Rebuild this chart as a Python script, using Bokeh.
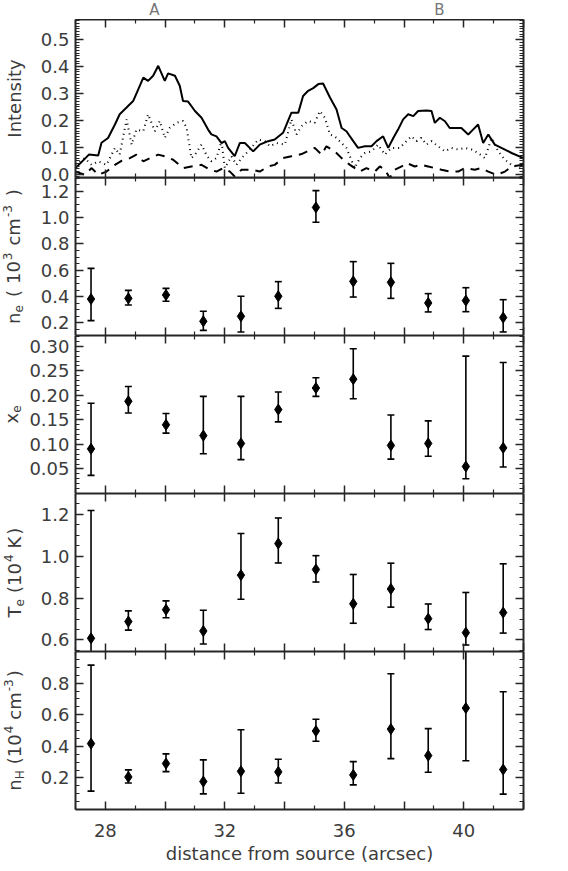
import math
from bokeh.plotting import figure
from bokeh.models import LinearAxis, FixedTicker, Range1d, ColumnDataSource
from bokeh.layouts import column, row
from bokeh.embed import file_html
from bokeh.resources import INLINE
from bokeh.core.properties import value

# ---------------- data ----------------
# Intensity profiles (top panel)
SOLID_X = [27.00, 27.45, 27.76, 27.87, 28.09, 28.32, 28.48, 28.71, 28.93, 29.08, 29.27, 29.43, 29.60, 29.77,
           29.99, 30.10, 30.33, 30.49, 30.60, 30.77, 31.00, 31.22, 31.44, 31.55, 31.72, 31.89, 32.00, 32.11,
           32.33, 32.50, 32.67, 32.95, 33.17, 33.45, 33.67, 33.95, 34.23, 34.46, 34.62, 34.79, 34.96, 35.13,
           35.29, 35.52, 35.74, 35.91, 36.07, 36.30, 36.46, 36.69, 36.91, 37.08, 37.30, 37.47, 37.64, 37.80,
           37.97, 38.14, 38.31, 38.47, 38.75, 38.92, 39.03, 39.20, 39.37, 39.53, 39.92, 40.15, 40.31, 40.48,
           40.65, 40.82, 41.04, 41.26, 41.60, 42.00]
SOLID_Y = [0.023, 0.073, 0.070, 0.117, 0.135, 0.185, 0.223, 0.248, 0.272, 0.310, 0.359, 0.347, 0.366, 0.403,
           0.347, 0.375, 0.366, 0.329, 0.272, 0.270, 0.235, 0.210, 0.166, 0.148, 0.141, 0.116, 0.123, 0.098,
           0.067, 0.116, 0.116, 0.085, 0.110, 0.123, 0.129, 0.154, 0.229, 0.229, 0.291, 0.310, 0.320, 0.335,
           0.337, 0.285, 0.241, 0.172, 0.160, 0.123, 0.098, 0.104, 0.104, 0.123, 0.141, 0.098, 0.135, 0.166,
           0.204, 0.223, 0.216, 0.235, 0.237, 0.235, 0.191, 0.210, 0.197, 0.172, 0.172, 0.148, 0.166, 0.185,
           0.116, 0.148, 0.110, 0.098, 0.079, 0.060]

DOT_X = [27.00, 27.31, 27.54, 27.76, 28.04, 28.32, 28.48, 28.71, 28.88, 29.04, 29.27, 29.43, 29.66, 29.82,
         29.99, 30.16, 30.38, 30.60, 30.72, 30.88, 31.00, 31.22, 31.39, 31.55, 31.72, 31.89, 32.00, 32.22,
         32.39, 32.56, 32.78, 33.12, 33.34, 33.51, 33.73, 34.01, 34.23, 34.40, 34.57, 34.79, 35.01, 35.18,
         35.35, 35.52, 35.68, 35.91, 36.07, 36.35, 36.52, 36.69, 36.91, 37.13, 37.36, 37.58, 37.86, 38.08,
         38.25, 38.42, 38.58, 38.75, 38.92, 39.14, 39.37, 39.59, 39.81, 40.04, 40.26, 40.48, 40.71, 40.93,
         41.15, 41.38, 41.60, 42.00]
DOT_Y = [0.035, 0.060, 0.035, 0.048, 0.035, 0.098, 0.073, 0.204, 0.110, 0.166, 0.160, 0.223, 0.160, 0.198,
         0.135, 0.173, 0.191, 0.198, 0.173, 0.060, 0.073, 0.110, 0.070, 0.048, 0.060, 0.123, 0.023, 0.067,
         0.035, 0.060, 0.085, 0.129, 0.123, 0.104, 0.116, 0.110, 0.204, 0.148, 0.179, 0.198, 0.191, 0.235,
         0.210, 0.148, 0.141, 0.116, 0.098, 0.023, 0.060, 0.079, 0.085, 0.110, 0.073, 0.098, 0.098, 0.123,
         0.141, 0.123, 0.135, 0.110, 0.123, 0.104, 0.085, 0.098, 0.092, 0.098, 0.092, 0.079, 0.060, 0.135,
         0.085, 0.054, 0.035, 0.017]

DASH_X = [27.00, 27.31, 27.54, 27.76, 28.04, 28.32, 28.54, 28.82, 29.04, 29.27, 29.49, 29.77, 29.99, 30.27,
          30.60, 30.88, 31.22, 31.50, 31.72, 31.94, 32.17, 32.33, 32.56, 32.89, 33.17, 33.45, 33.67, 33.95,
          34.23, 34.57, 35.01, 35.24, 35.40, 35.68, 35.91, 36.19, 36.52, 36.74, 37.02, 37.19, 37.36, 37.52,
          37.69, 37.92, 38.08, 38.36, 38.58, 38.81, 39.03, 39.25, 39.53, 39.81, 40.04, 40.37, 40.59, 40.82,
          41.10, 41.38, 41.60, 42.00]
DASH_Y = [0.010, -0.002, 0.023, -0.002, 0.010, 0.035, 0.050, 0.060, 0.073, 0.048, 0.060, 0.073, 0.067, 0.054,
          0.023, 0.029, 0.035, 0.017, 0.010, 0.023, 0.010, -0.008, 0.017, 0.017, 0.010, 0.029, 0.035, 0.060,
          0.067, 0.075, 0.098, 0.073, 0.104, 0.085, 0.060, 0.035, 0.010, 0.023, 0.010, 0.029, 0.017, -0.014,
          0.017, 0.029, 0.042, 0.029, 0.035, 0.029, 0.023, 0.017, 0.010, 0.010, 0.023, 0.017, 0.023, 0.010,
          -0.002, 0.010, 0.029, 0.035]

# Positions of the twelve sampled regions (arcsec)
X_POS = [27.52, 28.77, 30.03, 31.28, 32.54, 33.79, 35.05, 36.30, 37.56, 38.81, 40.07, 41.32]

NE = [0.382, 0.387, 0.413, 0.213, 0.251, 0.403, 1.078, 0.516, 0.509, 0.352, 0.370, 0.241]
NE_LO = [0.218, 0.337, 0.365, 0.144, 0.132, 0.311, 0.965, 0.397, 0.387, 0.284, 0.286, 0.132]
NE_HI = [0.615, 0.448, 0.463, 0.289, 0.403, 0.514, 1.205, 0.666, 0.653, 0.423, 0.468, 0.377]

XE = [0.091, 0.188, 0.140, 0.118, 0.102, 0.171, 0.215, 0.233, 0.098, 0.102, 0.055, 0.093]
XE_LO = [0.037, 0.164, 0.123, 0.081, 0.069, 0.146, 0.198, 0.193, 0.070, 0.076, 0.030, 0.054]
XE_HI = [0.184, 0.218, 0.163, 0.198, 0.198, 0.207, 0.236, 0.295, 0.160, 0.148, 0.280, 0.267]

TE = [0.608, 0.688, 0.745, 0.643, 0.910, 1.061, 0.937, 0.773, 0.844, 0.702, 0.635, 0.731]
TE_LO = [0.450, 0.647, 0.706, 0.581, 0.795, 0.968, 0.877, 0.680, 0.757, 0.650, 0.576, 0.633]
TE_HI = [1.219, 0.739, 0.787, 0.742, 1.109, 1.183, 1.003, 0.913, 0.967, 0.772, 0.827, 0.964]

NH = [0.417, 0.206, 0.291, 0.177, 0.242, 0.238, 0.497, 0.219, 0.509, 0.341, 0.642, 0.253]
NH_LO = [0.116, 0.168, 0.240, 0.099, 0.103, 0.168, 0.432, 0.156, 0.322, 0.236, 0.309, 0.097]
NH_HI = [0.914, 0.251, 0.352, 0.314, 0.505, 0.318, 0.571, 0.303, 0.859, 0.512, 1.030, 0.745]

REGION_LABELS = ["A", "B"]
REGION_X = [29.64, 39.18]

X_MAJOR = [28, 30, 32, 34, 36, 38, 40, 42]
X_MINOR = [27, 29, 31, 33, 35, 37, 39, 41]
X_LABELED = [28, 32, 36, 40]

# y titles: (text, font px, perpendicular shift (+ lowered / - raised), gap before in px)
YTITLES = [
    [("Intensity", 18, 0, 0)],
    [("n", 18, 0, 0), ("e", 12, 5, 0), ("(", 18, 0, 8), ("10", 18, 0, 6), ("3", 12, -6, 1),
     ("cm", 18, 0, 7), ("-3", 12, -6, 1), (")", 18, 0, 9)],
    [("x", 18, 0, 0), ("e", 12, 5, 0)],
    [("T", 18, 0, 0), ("e", 12, 5, 0), ("(", 18, 0, 6), ("10", 18, 0, 0), ("4", 12, -6, 1),
     ("K", 18, 0, 6), (")", 18, 0, 2)],
    [("n", 18, 0, 0), ("H", 12, 5, 0), ("(", 18, 0, 6), ("10", 18, 0, 0), ("4", 12, -6, 1),
     ("cm", 18, 0, 6), ("-3", 12, -6, 1), (")", 18, 0, 2)],
]

# ---------------- style / geometry ----------------
FONT = "DejaVu Sans"
TXT = "#3c3c3c"
AXC = "#262626"
FW, FH = 448, 158
STRIP = 26            # width of the strip that carries the rotated y titles
LEFT, RIGHT = 48, 30  # borders of each panel (tick labels live in LEFT)
TOPH, BOT5 = 19, 60
OVER = 10             # extra room under panel 1 so its "0.0" label is not cut
TOTAL_H = TOPH + 5 * FH + BOT5
TITLE_CX = [14, 13, 11, 14, 14]   # centre line of the rotated titles in the strip

WID = {'n': .634, 'e': .615, ' ': .318, '(': .390, ')': .390, '1': .636, '0': .636, '3': .636,
       '4': .636, 'c': .550, 'm': .974, '-': .361, 'K': .656, 'T': .611, 'x': .592, 'H': .752,
       'I': .295, 't': .392, 's': .521, 'i': .278, 'y': .592}


def tlen(s, size):
    return sum(WID.get(ch, .6) for ch in s) * size


def seq(a, b, step):
    out, v = [], a
    while v <= b + 1e-9:
        out.append(round(v, 4))
        v += step
    return out


def make_axis(ticks, minor, labels, overrides=None):
    ax = LinearAxis(ticker=FixedTicker(ticks=ticks, minor_ticks=minor))
    ax.axis_line_color = AXC
    ax.axis_line_width = 2
    ax.major_tick_in = 8
    ax.major_tick_out = 0
    ax.minor_tick_in = 4
    ax.minor_tick_out = 0
    ax.major_tick_line_color = AXC
    ax.minor_tick_line_color = AXC
    ax.major_tick_line_width = 1.5
    ax.minor_tick_line_width = 1.2
    if labels:
        ax.major_label_text_font = FONT
        ax.major_label_text_font_size = "18px"
        ax.major_label_text_color = TXT
        ax.major_label_standoff = 6
        if overrides:
            ax.major_label_overrides = overrides
    else:
        ax.major_label_overrides = {t: "" for t in ticks}
        ax.major_label_text_font_size = "1px"
        ax.major_label_text_color = None
        ax.major_label_standoff = 0
    return ax


def base_fig(**kw):
    p = figure(output_backend="svg", toolbar_location=None, x_axis_location=None,
               y_axis_location=None, **kw)
    p.outline_line_color = None
    p.background_fill_color = None
    p.border_fill_color = None
    p.grid.grid_line_color = None
    return p


def make_panel(yr, yticks, yminor, ydec, bottom=0, last=False):
    p = base_fig(frame_width=FW, frame_height=FH, x_range=Range1d(27, 42), y_range=Range1d(*yr),
                 min_border_left=LEFT, min_border_right=RIGHT, min_border_top=0,
                 min_border_bottom=bottom)
    yov = {t: f"{t:.{ydec}f}" for t in yticks}
    p.add_layout(make_axis(yticks, yminor, True, overrides=yov), "left")
    p.add_layout(make_axis(yticks, yminor, False), "right")
    p.add_layout(make_axis(X_MAJOR, X_MINOR, False), "above")
    if last:
        ov = {t: (str(t) if t in X_LABELED else "") for t in X_MAJOR}
        bx = make_axis(X_MAJOR, X_MINOR, True, overrides=ov)
        bx.major_label_standoff = 14
        bx.axis_label = "distance from source (arcsec)"
        bx.axis_label_text_font = FONT
        bx.axis_label_text_font_size = "18px"
        bx.axis_label_text_font_style = "normal"
        bx.axis_label_text_color = TXT
        bx.axis_label_standoff = 3
        p.add_layout(bx, "below")
    else:
        p.add_layout(make_axis(X_MAJOR, X_MINOR, False), "below")
    return p


def err_panel(p, xs, ys, lo, hi):
    src = ColumnDataSource(dict(x=xs, y=ys, lo=lo, hi=hi))
    p.segment(x0="x", y0="lo", x1="x", y1="hi", source=src, line_color="black", line_width=1.6)
    p.scatter(x="x", y="lo", source=src, marker="dash", size=7, line_color="black", line_width=1.6)
    p.scatter(x="x", y="hi", source=src, marker="dash", size=7, line_color="black", line_width=1.6)
    p.scatter(x="x", y="y", source=src, marker="diamond", size=11, color="black")


# ---------------- top strip with region labels ----------------
top = base_fig(frame_width=FW, frame_height=TOPH, x_range=Range1d(27, 42), y_range=Range1d(0, TOPH),
               min_border_left=LEFT, min_border_right=RIGHT, min_border_top=0, min_border_bottom=0)
top.text(x=REGION_X, y=[9.5] * len(REGION_X), text=REGION_LABELS, text_font=value(FONT),
         text_font_size=value("15px"), text_color="#777777", text_align="center",
         text_baseline="middle")

# ---------------- panels ----------------
p1 = make_panel((-0.012, 0.575), seq(0.0, 0.5, 0.1), seq(-0.01, 0.57, 0.01), 1, bottom=OVER)
p1.margin = (0, 0, -OVER, 0)
p1.line(SOLID_X, SOLID_Y, line_color="black", line_width=2)
p1.line(DOT_X, DOT_Y, line_color="black", line_width=2, line_dash="1 4")
p1.line(DASH_X, DASH_Y, line_color="black", line_width=2, line_dash="9 7")

p2 = make_panel((0.105, 1.305), seq(0.2, 1.2, 0.2), seq(0.15, 1.3, 0.05), 1)
err_panel(p2, X_POS, NE, NE_LO, NE_HI)

p3 = make_panel((0.0, 0.322), seq(0.05, 0.30, 0.05), seq(0.0, 0.32, 0.01), 2)
err_panel(p3, X_POS, XE, XE_LO, XE_HI)

p4 = make_panel((0.545, 1.30), seq(0.6, 1.2, 0.2), seq(0.55, 1.3, 0.05), 1)
err_panel(p4, X_POS, TE, TE_LO, TE_HI)

p5 = make_panel((0.0, 1.0), seq(0.2, 0.8, 0.2), seq(0.05, 1.0, 0.05), 1, bottom=BOT5, last=True)
err_panel(p5, X_POS, NH, NH_LO, NH_HI)

# ---------------- left strip with rotated y titles ----------------
strip = base_fig(frame_width=STRIP, frame_height=TOTAL_H, x_range=Range1d(0, STRIP),
                 y_range=Range1d(0, TOTAL_H), min_border_left=0, min_border_right=0,
                 min_border_top=0, min_border_bottom=0)
tx, ty, tt, ts = [], [], [], []
for k, pieces in enumerate(YTITLES):
    center = TOTAL_H - (TOPH + FH * k + FH / 2)
    total = sum(tlen(t, s) + g for t, s, _, g in pieces)
    pos = center - total / 2
    for t, s, sh, g in pieces:
        pos += g
        tx.append(TITLE_CX[k] + sh)
        ty.append(pos)
        tt.append(t)
        ts.append(f"{s}px")
        pos += tlen(t, s)
strip.text(x=tx, y=ty, text=tt, text_font_size=ts, angle=math.pi / 2, text_font=value(FONT),
           text_color=TXT, text_align="left", text_baseline="middle")

layout = row(strip, column(top, p1, p2, p3, p4, p5, spacing=0), spacing=0)

with open("out.html", "w") as f:
    f.write(file_html(layout, INLINE))
